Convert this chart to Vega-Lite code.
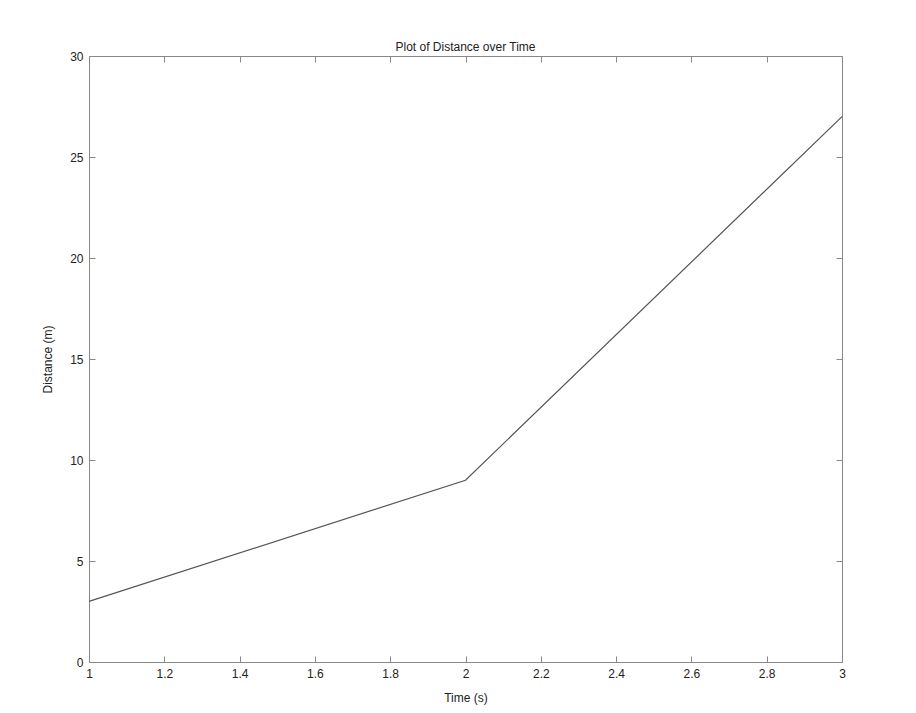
{
  "$schema": "https://vega.github.io/schema/vega-lite/v6.json",
  "width": 753,
  "height": 606,
  "autosize": {"type": "none"},
  "padding": {"left": 89, "top": 56, "right": 74, "bottom": 51},
  "background": "white",
  "title": {"text": "Plot of Distance over Time", "font": "Liberation Sans", "fontSize": 12, "fontWeight": "normal", "color": "#222", "offset": -4},
  "config": {
    "view": {"stroke": null},
    "axis": {
      "domainColor": "#888",
      "tickColor": "#888",
      "tickSize": -6,
      "grid": false,
      "labelFont": "Liberation Sans",
      "labelFontSize": 12,
      "labelColor": "#222",
      "titleFont": "Liberation Sans",
      "titleFontSize": 12,
      "titleFontWeight": "normal",
      "titleColor": "#222"
    }
  },
  "data": {"values": [
    {"t": 1, "d": 3},
    {"t": 2, "d": 9},
    {"t": 3, "d": 27}
  ]},
  "layer": [
    {
      "mark": {"type": "line", "color": "#555", "strokeWidth": 1.2},
      "encoding": {
        "x": {"field": "t", "type": "quantitative", "scale": {"domain": [1, 3], "nice": false, "zero": false},
              "axis": {"title": "Time (s)", "format": "~g", "values": [1, 1.2, 1.4, 1.6, 1.8, 2, 2.2, 2.4, 2.6, 2.8, 3], "labelPadding": 12, "titlePadding": 13, "labelFlush": false}},
        "y": {"field": "d", "type": "quantitative", "scale": {"domain": [0, 30], "nice": false},
              "axis": {"title": "Distance (m)", "values": [0, 5, 10, 15, 20, 25, 30], "labelPadding": 12, "titlePadding": 15, "labelFlush": false}}
      }
    },
    {
      "mark": {"type": "line", "opacity": 0},
      "encoding": {
        "x": {"field": "t", "type": "quantitative", "axis": {"orient": "top", "labels": false, "title": null, "values": [1, 1.2, 1.4, 1.6, 1.8, 2, 2.2, 2.4, 2.6, 2.8, 3]}},
        "y": {"field": "d", "type": "quantitative", "axis": {"orient": "right", "labels": false, "title": null, "values": [0, 5, 10, 15, 20, 25, 30]}}
      }
    }
  ],
  "resolve": {"axis": {"x": "independent", "y": "independent"}}
}
